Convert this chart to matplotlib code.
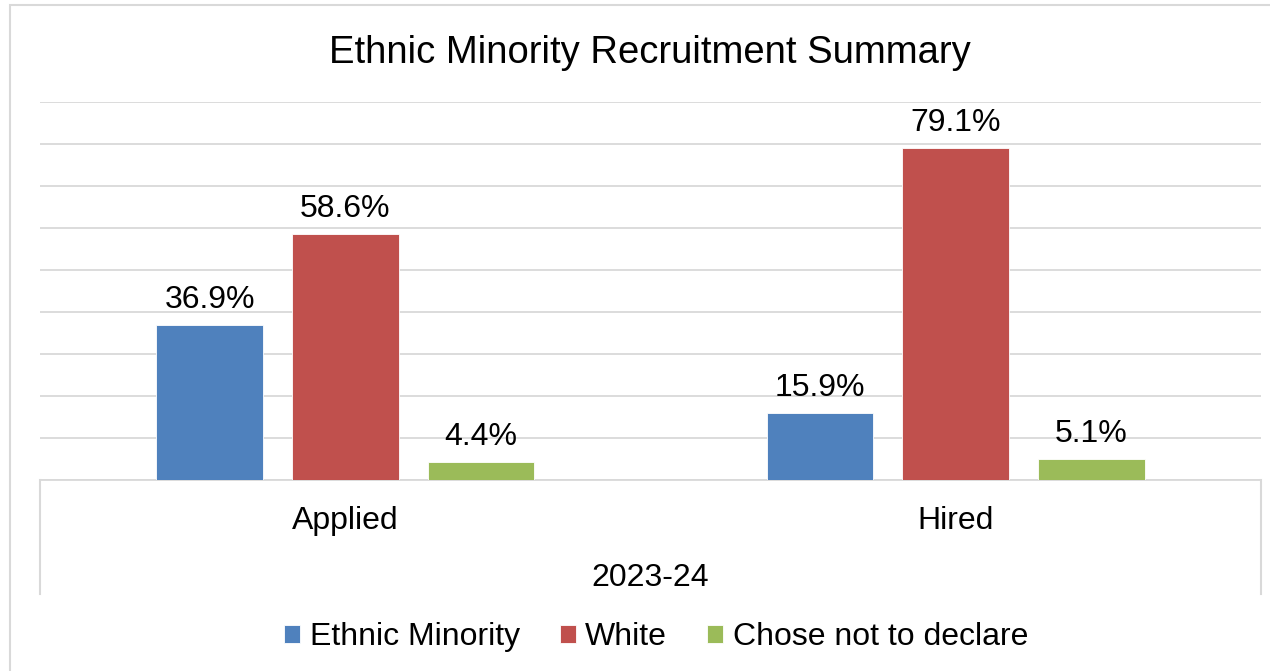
import matplotlib.pyplot as plt
from matplotlib.patches import Rectangle

plt.rcParams['font.family'] = ['Liberation Sans', 'DejaVu Sans']

stages = ["Applied", "Hired"]
period = "2023-24"
groups = ["Ethnic Minority", "White", "Chose not to declare"]
ethnic_minority = [36.9, 15.9]
white = [58.6, 79.1]
not_declared = [4.4, 5.1]

colors = ['#4F81BD', '#C0504D', '#9BBB59']
grid_col = '#D9D9D9'

fig = plt.figure(figsize=(12.7, 6.71), dpi=100)
ax = fig.add_axes([40/1270, 1 - 480/671, 1221/1270, 378/671])

x = [0, 1]
offsets = [-0.222, 0.0, 0.222]
width = 0.1745
bars = []
for vals, off, c, name in zip([ethnic_minority, white, not_declared], offsets, colors, groups):
    b = ax.bar([i + off for i in x], vals, width, color=c, edgecolor='white', linewidth=0.6,
               label=name, zorder=3)
    ax.bar_label(b, labels=[f"{v:.1f}%" for v in vals], padding=7, fontsize=23)
    bars.append(b)

ax.set_xlim(-0.5, 1.5)
ax.set_ylim(0, 90)
ax.set_yticks(range(0, 91, 10))
ax.yaxis.grid(True, color=grid_col, linewidth=1.3, zorder=0)
ax.tick_params(axis='y', left=False, labelleft=False)
ax.set_xticks(x, stages, fontsize=23)
ax.tick_params(axis='x', length=0, pad=19)
for s in ['left', 'right', 'top']:
    ax.spines[s].set_visible(False)
ax.spines['bottom'].set_color(grid_col)
ax.spines['bottom'].set_linewidth(1.3)

# category group dividers below the axis
for xe in [0, 1]:
    ax.plot([xe, xe], [0, -114/378], transform=ax.transAxes, color=grid_col,
            linewidth=1.5, clip_on=False)
ax.text(0.5, -98/378, period, transform=ax.transAxes, ha='center', va='center', fontsize=23)

fig.text(0.512, 1 - 53/671, "Ethnic Minority Recruitment Summary", ha='center', va='center',
         fontsize=27.5)

fig.legend(handles=bars, loc='center', bbox_to_anchor=(656/1270, 1 - 637/671), ncol=3,
           frameon=False, fontsize=23, handlelength=0.5, handleheight=0.5,
           handletextpad=0.3, columnspacing=1.25)

# outer chart frame
fig.patches.append(Rectangle((10/1270, -0.1), 1.2, 1.1 - 5/671, transform=fig.transFigure,
                             fill=False, edgecolor=grid_col, linewidth=1.5))

fig.savefig("out.png", dpi=100)
